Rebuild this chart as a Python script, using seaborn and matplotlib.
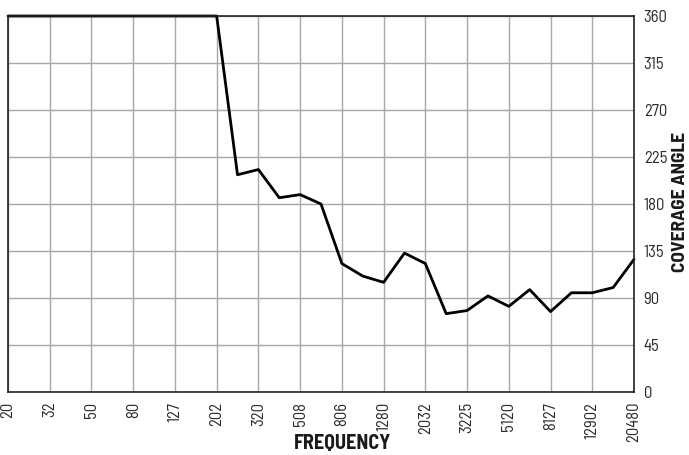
import matplotlib
matplotlib.use('Agg')
import matplotlib.pyplot as plt
import seaborn as sns
import pandas as pd

# === DATA (1/3 octave bands) ===
freqs = [20, 25, 32, 40, 50, 63, 80, 100, 127, 160, 202, 254, 320, 403, 508, 640,
         806, 1016, 1280, 1613, 2032, 2560, 3225, 4064, 5120, 6451, 8127, 10240,
         12902, 16256, 20480]
coverage = [360, 360, 360, 360, 360, 360, 360, 360, 360, 360, 360, 208, 213, 186, 189, 180,
            123, 111, 105, 133, 123, 75, 78, 92, 82, 98, 77, 95, 95, 100, 127]
y_ticks = [0, 45, 90, 135, 180, 225, 270, 315, 360]

df = pd.DataFrame({'band': range(len(freqs)), 'freq': freqs, 'angle': coverage})

sns.set_style('white')
FONT = ['Barlow Semi Condensed', 'Liberation Sans Narrow', 'DejaVu Sans']
plt.rcParams['font.family'] = FONT

fig = plt.figure(figsize=(6.89, 4.55), dpi=100)
ax = fig.add_axes([8 / 689, 63 / 455, 626 / 689, 376 / 455])

sns.lineplot(data=df, x='band', y='angle', color='black', lw=2.0, ax=ax, clip_on=False)

label_idx = list(range(0, len(freqs), 2))
ax.set_xticks(label_idx)
ax.set_xticklabels([str(freqs[i]) for i in label_idx], rotation=90)
ax.set_xlim(0, len(freqs) - 1)
ax.set_ylim(0, 360)
ax.set_yticks(y_ticks)
ax.yaxis.tick_right()
ax.yaxis.set_label_position('right')
ax.tick_params(axis='both', length=0, labelsize=12, colors='#2a2a2a')
ax.tick_params(axis='y', pad=7)
ax.tick_params(axis='x', pad=7)

ax.grid(True, color='#a8a8a8', lw=1.0)
for s in ax.spines.values():
    s.set_visible(True)
    s.set_color('#222222')
    s.set_linewidth(1.2)

ax.set_xlabel('FREQUENCY', fontsize=14.5, fontweight='bold', color='#1a1a1a')
ax.set_ylabel('COVERAGE ANGLE', fontsize=14, fontweight='bold', color='#1a1a1a',
              rotation=90, va='center', ha='center')
ax.xaxis.set_label_coords(0.534, -0.137)
ax.xaxis.label.set_va('center')
ax.yaxis.set_label_coords(1.074, 0.505)

fig.savefig('out.png', dpi=100)
